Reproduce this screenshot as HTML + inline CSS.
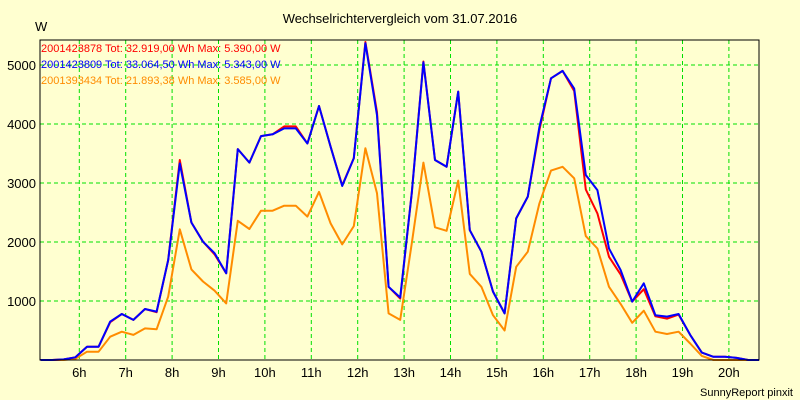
<!DOCTYPE html>
<html><head><meta charset="utf-8"><style>
body{margin:0;background:#ffffd0;}
svg{display:block;font-family:"Liberation Sans",sans-serif;}
</style></head><body>
<svg id="chart" width="800" height="400" xmlns="http://www.w3.org/2000/svg">
<rect x="0" y="0" width="800" height="400" fill="#ffffd0"/>
<text x="400" y="23" text-anchor="middle" font-size="13" fill="#000">Wechselrichtervergleich vom 31.07.2016</text>
<text x="35" y="31" font-size="13" fill="#000">W</text>
<text x="793" y="396" text-anchor="end" font-size="11" fill="#000">SunnyReport pinxit</text>
<g id="grid"></g>
<g id="series"></g>
<rect x="40" y="40" width="719" height="320" fill="none" stroke="#000" stroke-width="1"/>
<g id="legend">
<text x="41" y="52" font-size="11" fill="#ff0000">2001423878 Tot: 32.919,00 Wh Max: 5.390,00 W</text>
<text x="41" y="68" font-size="11" fill="#0000ff">2001423809 Tot: 33.064,50 Wh Max: 5.343,00 W</text>
<text x="41" y="84" font-size="11" fill="#ff8c00">2001393434 Tot: 21.893,38 Wh Max: 3.585,00 W</text>
</g>
</svg>
<script>
const startHour = 5 + 10/60;
const stepHours = 0.25;
const xTickHours = [6,7,8,9,10,11,12,13,14,15,16,17,18,19,20];
const xTickLabels = ["6h","7h","8h","9h","10h","11h","12h","13h","14h","15h","16h","17h","18h","19h","20h"];
const yTicks = [1000,2000,3000,4000,5000];
const yTickLabels = ["1000","2000","3000","4000","5000"];
const seriesOrange = [0,0,0,20,140,140,395,480,425,535,520,1075,2215,1535,1330,1175,960,2360,2220,2530,2530,2615,2615,2430,2850,2315,1960,2270,3590,2825,790,680,1980,3345,2250,2190,3040,1460,1240,760,500,1580,1835,2655,3210,3275,3080,2100,1890,1240,950,630,835,480,440,480,280,70,0,0,0,0,0];
const seriesRed = [0,0,10,45,225,225,640,780,680,865,810,1695,3390,2330,2005,1790,1470,3575,3345,3795,3825,3960,3960,3670,4305,3615,2960,3420,5390,4200,1240,1040,2835,5060,3390,3275,4550,2200,1835,1160,790,2400,2770,3900,4775,4900,4560,2890,2485,1750,1450,990,1200,740,700,770,425,125,55,55,35,0,0];
const seriesBlue = [0,0,10,45,225,225,650,780,680,865,820,1695,3330,2330,2005,1810,1470,3575,3345,3795,3825,3925,3925,3670,4305,3615,2950,3420,5370,4150,1240,1060,2835,5045,3390,3275,4550,2200,1835,1160,790,2400,2770,3950,4775,4900,4600,3135,2880,1890,1525,990,1300,760,735,780,425,125,55,55,35,0,0];

const NS="http://www.w3.org/2000/svg";
const x0=40,x1=759,yTop=40,yBot=360;
function xScale(h){return 79.3+(h-6)*46.4;}
function yScale(v){return 360-v*0.059;}
const grid=document.getElementById('grid');
xTickHours.forEach((h,i)=>{
  const l=document.createElementNS(NS,'line');
  
  
  const x=xScale(h);
  l.setAttribute('x1',x);l.setAttribute('x2',x);l.setAttribute('y1',yTop);l.setAttribute('y2',yBot);
  l.setAttribute('stroke','#00e000');l.setAttribute('stroke-dasharray','4,3');
  grid.appendChild(l);
  const t=document.createElementNS(NS,'text');
  
  
  t.setAttribute('x',x);t.setAttribute('y',377);t.setAttribute('text-anchor','middle');t.setAttribute('font-size','13');
  t.textContent=xTickLabels[i];
  grid.appendChild(t);
});
yTicks.forEach((v,i)=>{
  const l=document.createElementNS(NS,'line');
  
  
  const y=yScale(v);
  l.setAttribute('x1',x0);l.setAttribute('x2',x1);l.setAttribute('y1',y);l.setAttribute('y2',y);
  l.setAttribute('stroke','#00e000');l.setAttribute('stroke-dasharray','4,3');
  grid.appendChild(l);
  const t=document.createElementNS(NS,'text');
  
  
  t.setAttribute('x',36);t.setAttribute('y',y+5);t.setAttribute('text-anchor','end');t.setAttribute('font-size','13');
  t.textContent=yTickLabels[i];
  grid.appendChild(t);
});
const g=document.getElementById('series');
function drawLine(vals,color,name){
  const pts=vals.map((v,i)=>Math.min(x1,xScale(startHour+i*stepHours)).toFixed(1)+','+yScale(v).toFixed(1)).join(' ');
  const p=document.createElementNS(NS,'polyline');
  
  
  p.setAttribute('points',pts);p.setAttribute('fill','none');p.setAttribute('stroke',color);p.setAttribute('stroke-width','2');
  p.setAttribute('stroke-linejoin','round');
  g.appendChild(p);
}
drawLine(seriesOrange,'#ff8c00','line-2001393434');
drawLine(seriesRed,'#ff0000','line-2001423878');
drawLine(seriesBlue,'#0000ff','line-2001423809');
</script>
</body></html>
